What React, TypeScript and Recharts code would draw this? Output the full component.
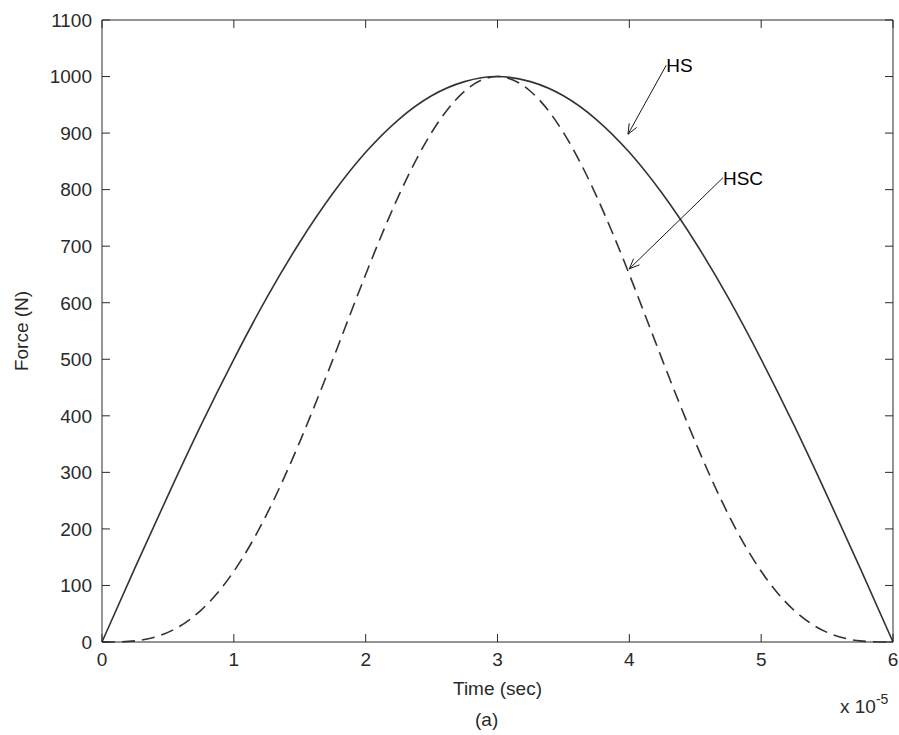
import React from 'react';
import { LineChart, Line, XAxis, YAxis, ReferenceLine, Label } from 'recharts';

// Time axis (x 10^-5 sec) and values
const timeValues = [0, 0.25, 0.5, 0.75, 1, 1.25, 1.5, 1.75, 2, 2.25, 2.5, 2.75, 3, 3.25, 3.5, 3.75, 4, 4.25, 4.5, 4.75, 5, 5.25, 5.5, 5.75, 6];
const hsForce = [0, 131, 259, 383, 500, 609, 707, 793, 866, 924, 966, 991, 1000, 991, 966, 924, 866, 793, 707, 609, 500, 383, 259, 131, 0];
const hscForce = [0, 2, 17, 56, 125, 226, 354, 499, 650, 789, 901, 974, 1000, 974, 901, 789, 650, 499, 354, 226, 125, 56, 17, 2, 0];

const xTicks = [0, 1, 2, 3, 4, 5, 6];
const yTicks = [0, 100, 200, 300, 400, 500, 600, 700, 800, 900, 1000, 1100];

// annotations: text, arrow tail, arrow tip (data units)
const notes = [
  { text: 'HS', tail: { x: 4.28, y: 1020 }, tip: { x: 3.99, y: 898 } },
  { text: 'HSC', tail: { x: 4.71, y: 821 }, tip: { x: 4.0, y: 660 } },
];

const data = timeValues.map((t, i) => ({ t, hs: hsForce[i], hsc: hscForce[i] }));

const W = 899;
const H = 735;
const LEFT = 102;
const RIGHT = 893;
const TOP = 20;
const BOTTOM = 642;
const TICK = 8;
const FONT = '"Liberation Sans", Arial, sans-serif';
const INK = '#2a2a2a';

const YTick = (props: any) => {
  const { x, y, payload } = props;
  return (
    <g>
      <line x1={LEFT} x2={LEFT + TICK} y1={y} y2={y} stroke={INK} />
      <line x1={RIGHT - TICK} x2={RIGHT} y1={y} y2={y} stroke={INK} />
      <text x={x} y={y} dy="0.36em" textAnchor="end" fontSize={19} fill={INK} fontFamily={FONT}>
        {payload.value}
      </text>
    </g>
  );
};

const XTick = (props: any) => {
  const { x, y, payload } = props;
  return (
    <g>
      <line x1={x} x2={x} y1={BOTTOM} y2={BOTTOM - TICK} stroke={INK} />
      <line x1={x} x2={x} y1={TOP} y2={TOP + TICK} stroke={INK} />
      <text x={x} y={y} dy="0.71em" textAnchor="middle" fontSize={19} fill={INK} fontFamily={FONT}>
        {payload.value}
      </text>
    </g>
  );
};

const arrowShape = (text: string) => (props: any) => {
  const { x1, y1, x2, y2 } = props;
  const ang = Math.atan2(y2 - y1, x2 - x1);
  const len = 11;
  const spread = 0.4;
  const ax = x2 - len * Math.cos(ang - spread);
  const ay = y2 - len * Math.sin(ang - spread);
  const bx = x2 - len * Math.cos(ang + spread);
  const by = y2 - len * Math.sin(ang + spread);
  return (
    <g>
      <line x1={x1} y1={y1} x2={x2} y2={y2} stroke="#000" strokeWidth={0.9} />
      <polyline points={`${ax},${ay} ${x2},${y2} ${bx},${by}`} fill="none" stroke="#000" strokeWidth={0.9} />
      <text x={x1} y={y1} dy="0.36em" fontSize={19} fill="#000" fontFamily={FONT}>
        {text}
      </text>
    </g>
  );
};

const App: React.FC = () => {
  return (
    <div style={{ position: 'absolute', left: 0, top: 0, width: W, height: H, background: '#fff' }}>
      <LineChart
        width={W}
        height={H}
        data={data}
        margin={{ top: TOP, right: W - RIGHT, left: LEFT - 70, bottom: H - BOTTOM - 40 }}
      >
        <XAxis
          dataKey="t"
          type="number"
          domain={[0, 6]}
          ticks={xTicks}
          height={40}
          tickLine={false}
          tickSize={0}
          tickMargin={11}
          tick={<XTick />}
          axisLine={{ stroke: INK }}
          interval={0}
        >
          <Label
            value="Time (sec)"
            position="insideBottom"
            offset={-13}
            style={{ fontSize: 19, fill: INK, fontFamily: FONT }}
          />
        </XAxis>
        <YAxis
          type="number"
          domain={[0, 1100]}
          ticks={yTicks}
          width={70}
          tickLine={false}
          tickSize={0}
          tickMargin={10}
          tick={<YTick />}
          axisLine={{ stroke: INK }}
          interval={0}
        />
        <ReferenceLine y={1100} stroke={INK} />
        <ReferenceLine x={6} stroke={INK} />
        <Line
          type="natural"
          dataKey="hs"
          stroke="#333"
          strokeWidth={1.6}
          dot={false}
          activeDot={false}
          isAnimationActive={false}
        />
        <Line
          type="natural"
          dataKey="hsc"
          stroke="#333"
          strokeWidth={1.6}
          strokeDasharray="13 7"
          dot={false}
          activeDot={false}
          isAnimationActive={false}
        />
        {notes.map((n) => (
          <ReferenceLine
            key={n.text}
            segment={[n.tail, n.tip]}
            shape={arrowShape(n.text)}
            ifOverflow="visible"
          />
        ))}
      </LineChart>
      <div
        style={{
          position: 'absolute',
          left: 22,
          top: 331,
          transform: 'translate(-50%, -50%) rotate(-90deg)',
          fontFamily: FONT,
          fontSize: 19,
          color: INK,
          lineHeight: '22px',
          whiteSpace: 'nowrap',
        }}
      >
        Force (N)
      </div>
      <div
        style={{
          position: 'absolute',
          left: 475,
          top: 709,
          fontFamily: FONT,
          fontSize: 19,
          color: INK,
          lineHeight: '22px',
        }}
      >
        (a)
      </div>
      <div
        style={{
          position: 'absolute',
          left: 840,
          top: 690,
          fontFamily: FONT,
          fontSize: 19,
          color: INK,
          lineHeight: '22px',
          whiteSpace: 'nowrap',
        }}
      >
        x 10<sup style={{ fontSize: 14, position: 'relative', top: -2 }}>-5</sup>
      </div>
    </div>
  );
};

export default App;
